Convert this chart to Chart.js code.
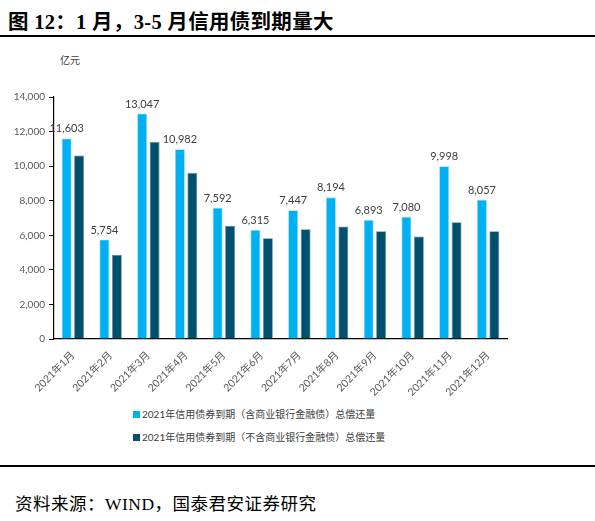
<!DOCTYPE html>
<html>
<head>
<meta charset="utf-8">
<script src="https://cdn.jsdelivr.net/npm/chart.js@4"></script>
<style>
  body { margin: 0; background: #fff; width: 595px; height: 521px; position: relative; overflow: hidden; }
  .title { position: absolute; left: 8px; top: 5px; font: bold 20.5px "Liberation Serif", "Noto Sans CJK SC", serif; letter-spacing: 0.3px; color: #000; white-space: nowrap; }
  .rule { position: absolute; left: 0; width: 595px; height: 2px; background: #000; }
  .unit { position: absolute; left: 60px; top: 52px; font: 10px Lato, "Noto Sans CJK SC", sans-serif; color: #404040; }
  .legend { position: absolute; left: 133px; font: 10px Lato, "Noto Sans CJK SC", sans-serif; color: #404040; white-space: nowrap; }
  .legend span { display: inline-block; width: 7px; height: 7px; margin-right: 2px; vertical-align: 0px; }
  .source { position: absolute; left: 15px; top: 490px; font: 17.5px "Liberation Serif", "Noto Sans CJK SC", serif; letter-spacing: 0.5px; color: #000; white-space: nowrap; }
  #wrap { position: absolute; left: 0; top: 40px; width: 512px; height: 360px; }
</style>
</head>
<body>
<div class="title">图 12：1 月，3-5 月信用债到期量大</div>
<div class="rule" style="top:35px"></div>
<div class="unit">亿元</div>
<div id="wrap"><canvas id="chart"></canvas></div>
<div id="legend"></div>
<div class="rule" style="top:465px"></div>
<div class="source">资料来源：WIND，国泰君安证券研究</div>
<script>
const months = ['2021年1月', '2021年2月', '2021年3月', '2021年4月', '2021年5月', '2021年6月',
  '2021年7月', '2021年8月', '2021年9月', '2021年10月', '2021年11月', '2021年12月'];
const seriesNames = ['2021年信用债券到期（含商业银行金融债）总偿还量',
  '2021年信用债券到期（不含商业银行金融债）总偿还量'];
const withBankDebt = [11603, 5754, 13047, 10982, 7592, 6315, 7447, 8194, 6893, 7080, 9998, 8057];
const withoutBankDebt = [10620, 4870, 11390, 9600, 6550, 5830, 6350, 6510, 6240, 5930, 6760, 6240];
const yTicks = [0, 2000, 4000, 6000, 8000, 10000, 12000, 14000];
const colors = ['#00B0F0', '#00506E'];

const fmt = v => v.toLocaleString('en-US');
const baseFont = 'Lato, "Noto Sans CJK SC", sans-serif';

// value labels above the first series
const valueLabels = {
  id: 'valueLabels',
  afterDatasetsDraw(chart) {
    const ctx = chart.ctx;
    const meta = chart.getDatasetMeta(0);
    ctx.save();
    ctx.font = '11px ' + baseFont;
    ctx.fillStyle = '#404040';
    ctx.textAlign = 'center';
    ctx.textBaseline = 'bottom';
    meta.data.forEach((bar, i) => {
      ctx.fillText(fmt(withBankDebt[i]), bar.x, bar.y - 4);
    });
    ctx.restore();
  }
};

const chart = new Chart(document.getElementById('chart'), {
  type: 'bar',
  data: {
    labels: months,
    datasets: [
      { label: seriesNames[0], data: withBankDebt, backgroundColor: colors[0], borderColor: '#8fd8f5', borderWidth: 0.8 },
      { label: seriesNames[1], data: withoutBankDebt, backgroundColor: colors[1], borderColor: '#6a8c9a', borderWidth: 0.8 }
    ]
  },
  options: {
    responsive: true,
    maintainAspectRatio: false,
    animation: false,
    categoryPercentage: 0.66,
    barPercentage: 0.8,
    layout: { padding: { top: 57, right: 5, left: 0, bottom: 0 } },
    plugins: {
      legend: { display: false },
      tooltip: { enabled: false }
    },
    scales: {
      x: {
        grid: { display: false },
        border: { color: '#000', width: 1.2 },
        ticks: { maxRotation: 45, minRotation: 45, color: '#595959', font: { size: 10.5, family: baseFont }, padding: 2 },
        afterFit: s => { s.height = 61; }
      },
      y: {
        min: 0,
        max: 14000,
        afterBuildTicks: s => { s.ticks = yTicks.map(v => ({ value: v })); },
        grid: { drawOnChartArea: false, drawTicks: true, tickLength: 5, color: '#000' },
        border: { color: '#000', width: 1.2 },
        ticks: { color: '#595959', font: { size: 10, family: baseFont }, padding: 4, callback: v => fmt(v) },
        afterFit: s => { s.width = 54; }
      }
    }
  },
  plugins: [valueLabels]
});

// legend in two rows
const legend = document.getElementById('legend');
seriesNames.forEach((name, i) => {
  const row = document.createElement('div');
  row.className = 'legend';
  row.style.top = (406 + i * 23) + 'px';
  row.innerHTML = '<span style="background:' + colors[i] + '"></span>' + name;
  legend.appendChild(row);
});
</script>
</body>
</html>
